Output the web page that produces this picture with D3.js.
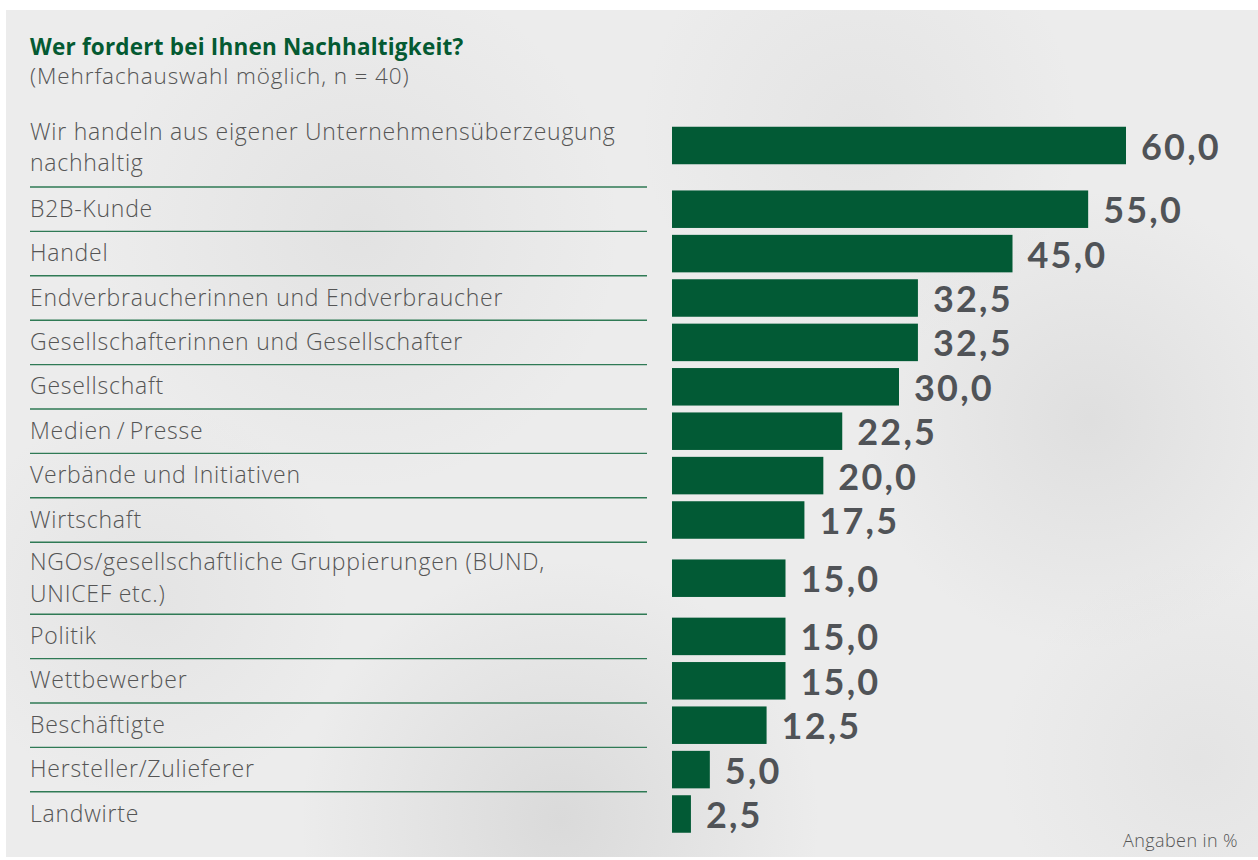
<!DOCTYPE html>
<html><head><meta charset="utf-8">
<script src="https://cdn.jsdelivr.net/npm/d3@7/dist/d3.min.js"></script>
<style>
html,body{margin:0;padding:0;background:#fff;}
svg{display:block;}
</style></head>
<body><svg id="chart" width="1258" height="860"></svg>
<script>
const categories = [
  ["Wir handeln aus eigener Unternehmensüberzeugung","nachhaltig"],
  ["B2B-Kunde"],
  ["Handel"],
  ["Endverbraucherinnen und Endverbraucher"],
  ["Gesellschafterinnen und Gesellschafter"],
  ["Gesellschaft"],
  ["Medien\u2009/\u2009Presse"],
  ["Verbände und Initiativen"],
  ["Wirtschaft"],
  ["NGOs/gesellschaftliche Gruppierungen (BUND,","UNICEF etc.)"],
  ["Politik"],
  ["Wettbewerber"],
  ["Beschäftigte"],
  ["Hersteller/Zulieferer"],
  ["Landwirte"]
];
const values = [60.0,55.0,45.0,32.5,32.5,30.0,22.5,20.0,17.5,15.0,15.0,15.0,12.5,5.0,2.5];
const title = "Wer fordert bei Ihnen Nachhaltigkeit?";
const subtitle = "(Mehrfachauswahl möglich, n = 40)";
const note = "Angaben in %";

const svg = d3.select("#chart");
const defs = svg.append("defs");
const FONT = "'Open Sans', 'Noto Sans', sans-serif";
const VFONT = "Lato, 'Open Sans', sans-serif";

// background panel with cloudy shading
const spots = [
  {cx:560, cy:820, r:260, o:0.22},
  {cx:1090, cy:420, r:230, o:0.16},
  {cx:360, cy:230, r:260, o:0.12},
  {cx:150, cy:600, r:200, o:0.10},
  {cx:860, cy:130, r:220, o:0.10},
  {cx:1200, cy:760, r:200, o:0.10}
];
spots.forEach((s,i)=>{
  const g = defs.append("radialGradient").attr("id","sp"+i);
  g.append("stop").attr("offset","0%").attr("stop-color","#9a9a9a").attr("stop-opacity",s.o);
  g.append("stop").attr("offset","100%").attr("stop-color","#9a9a9a").attr("stop-opacity",0);
});
svg.append("rect").attr("x",6).attr("y",10).attr("width",1252).attr("height",847).attr("fill","#ececec");
spots.forEach((s,i)=>{
  svg.append("circle").attr("cx",s.cx).attr("cy",s.cy).attr("r",s.r).attr("fill",`url(#sp${i})`);
});
svg.append("rect").attr("x",0).attr("y",0).attr("width",1258).attr("height",10).attr("fill","#fff");
svg.append("rect").attr("x",0).attr("y",0).attr("width",6).attr("height",860).attr("fill","#fff");
svg.append("rect").attr("x",0).attr("y",857).attr("width",1258).attr("height",3).attr("fill","#fff");

// title
svg.append("text").attr("x",30).attr("y",55).attr("fill","#045a32")
  .attr("font-family",FONT).attr("font-weight",700).attr("font-size",22.5)
  .attr("letter-spacing",0.2).text(title);
svg.append("text").attr("x",30).attr("y",84).attr("fill","#555")
  .attr("font-family",FONT).attr("font-weight",300).attr("font-size",22.5)
  .attr("letter-spacing",0.9).text(subtitle);

// layout of rows
const top0 = 112, singleH = 44.4, doubleH = 75;
const rows = [];
let yy = top0;
categories.forEach((c,i)=>{
  const h = c.length > 1 ? (i === 0 ? doubleH : 72) : singleH;
  rows.push({lines:c, value:values[i], y0:yy, h:h, first:i===0});
  yy += h;
});

const x = d3.scaleLinear().domain([0,60]).range([672,1126]);
const barH = 37.5;

const g = svg.append("g");
// separators
g.selectAll("line.sep").data(rows.slice(0,-1)).join("line")
  .attr("x1",30).attr("x2",647)
  .attr("y1",d=>d.y0+d.h).attr("y2",d=>d.y0+d.h)
  .attr("stroke","#2f7a55").attr("stroke-width",1.4);

// labels (one text element per category, lines as tspans)
rows.forEach(r=>{
  const cy = r.y0 + r.h/2 + (r.first ? -1.5 : 0);
  const n = r.lines.length;
  const lh = 31.8;
  const t = g.append("text").attr("fill","#555").attr("font-family",FONT)
    .attr("font-weight",300).attr("font-size",23).attr("letter-spacing",0.75);
  r.lines.forEach((s,j)=>{
    t.append("tspan").attr("x",30).attr("y",cy + (j-(n-1)/2)*lh + 7.5).text(s);
  });
});

const barCY = d => d.y0 + d.h/2 + (d.first ? -4 : 0);
// bars
g.selectAll("rect.bar").data(rows).join("rect")
  .attr("class","bar")
  .attr("x",x(0)).attr("width",d=>x(d.value)-x(0))
  .attr("y",d=>barCY(d)-barH/2).attr("height",barH)
  .attr("fill","#025a35");

// value labels
const fmt = v => d3.format(".1f")(v).replace(".",",");
g.selectAll("text.val").data(rows).join("text")
  .attr("class","val")
  .attr("x",d=>x(d.value)+15).attr("y",d=>barCY(d)+14)
  .attr("fill","#505357").attr("font-family",VFONT).attr("font-weight",700)
  .attr("font-size",36).attr("letter-spacing",2.2).text(d=>fmt(d.value));

svg.append("text").attr("x",1238).attr("y",847).attr("text-anchor","end")
  .attr("fill","#555").attr("font-family",FONT).attr("font-weight",300)
  .attr("font-size",18).attr("letter-spacing",0.4).text(note);
</script>
</body></html>
